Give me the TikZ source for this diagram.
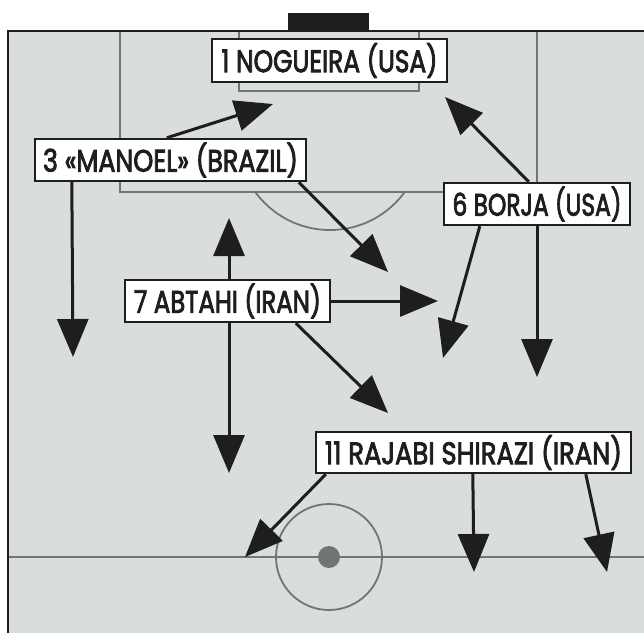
\documentclass[tikz,border=0pt]{standalone}
\usepackage{fontspec}
\setmainfont{Poppins}[FakeBold=3]
\usetikzlibrary{arrows.meta,calc}
\definecolor{fieldgray}{RGB}{217,221,221}
\definecolor{linegray}{RGB}{112,117,117}
\definecolor{ink}{RGB}{30,30,30}
\begin{document}
\begin{tikzpicture}[x=1pt,y=-1pt,
  lbl/.style={draw=ink,line width=2.4pt,fill=white,inner sep=0pt,text=ink,
    font=\fontsize{31}{31}\selectfont},
  arr/.style={draw=ink,line width=3pt,-{Triangle[length=38pt,width=31pt]}},
  fline/.style={draw=linegray,line width=1.8pt}]
\useasboundingbox (0,0) rectangle (644,633);
\fill[white] (0,0) rectangle (644,633);
\fill[fieldgray] (8,31) rectangle (644,633);
% field markings
\draw[fline] (120,31) -- (120,192) -- (537,192) -- (537,31);
\draw[fline] (239,31) -- (239,91) -- (419,91) -- (419,31);
\begin{scope}
  \clip (0,192) rectangle (644,633);
  \draw[fline] (330,137.5) circle (92.5pt);
\end{scope}
\draw[fline] (8,557) -- (644,557);
\draw[fline] (329,557) circle (53pt);
\fill[linegray] (329,557) circle (11pt);
\draw[ink,line width=2.6pt] (8,633) -- (8,31) -- (644,31);
\fill[ink] (288,13) rectangle (369,31);
% labels
\node[lbl,minimum width=235pt,minimum height=43pt] (nog) at (329.5,60.5)
  {\resizebox{216pt}{\height}{1 NOGUEIRA (USA)}};
\node[lbl,minimum width=271pt,minimum height=42pt] (man) at (170.5,160)
  {\resizebox{255pt}{\height}{3 «MANOEL» (BRAZIL)}};
\node[lbl,minimum width=186pt,minimum height=42pt] (bor) at (537,204)
  {\resizebox{169pt}{\height}{6 BORJA (USA)}};
\node[lbl,minimum width=205pt,minimum height=42pt] (abt) at (227.5,301)
  {\resizebox{187pt}{\height}{7 ABTAHI (IRAN)}};
\node[lbl,minimum width=315pt,minimum height=41pt] (raj) at (473.5,452.5)
  {\resizebox{297pt}{\height}{11 RAJABI SHIRAZI (IRAN)}};
% arrow tips
\coordinate (t1) at (273,104);
\coordinate (t2) at (73,357);
\coordinate (t3) at (388,272);
\coordinate (t4) at (445,97);
\coordinate (t5) at (443,358);
\coordinate (t6) at (537,377);
\coordinate (t7) at (229,218);
\coordinate (t8) at (229,473);
\coordinate (t9) at (438,301);
\coordinate (t10) at (388,413);
\coordinate (t11) at (245,557);
\coordinate (t12) at (474,572);
\coordinate (t13) at (607,572);
% arrows
\draw[arr] ([xshift=133pt]man.north west) -- (t1);
\draw[arr] ([xshift=38pt]man.south west) -- (t2);
\draw[arr] ([xshift=265pt]man.south west) -- (t3);
\draw[arr] ([xshift=86pt]bor.north west) -- (t4);
\draw[arr] ([xshift=37pt]bor.south west) -- (t5);
\draw[arr] (bor.south) -- (t6);
\draw[arr] ([xshift=1.5pt]abt.north) -- (t7);
\draw[arr] ([xshift=1.5pt]abt.south) -- (t8);
\draw[arr] (abt.east) -- (t9);
\draw[arr] ([xshift=172pt]abt.south west) -- (t10);
\draw[arr] ([xshift=11pt]raj.south west) -- (t11);
\draw[arr] ([xshift=158pt]raj.south west) -- (t12);
\draw[arr] ([xshift=271pt]raj.south west) -- (t13);
\end{tikzpicture}
\end{document}
